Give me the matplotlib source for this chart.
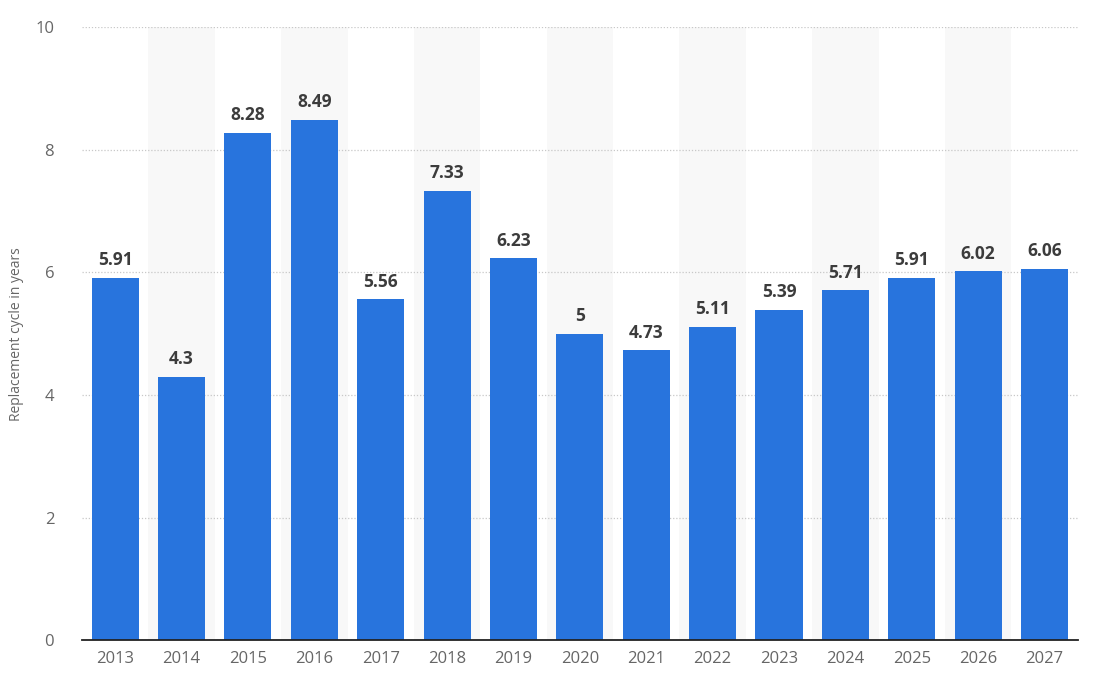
import matplotlib.pyplot as plt
import numpy as np

years = ['2013', '2014', '2015', '2016', '2017', '2018', '2019', '2020',
         '2021', '2022', '2023', '2024', '2025', '2026', '2027']
cycle = [5.91, 4.3, 8.28, 8.49, 5.56, 7.33, 6.23, 5, 4.73, 5.11, 5.39,
         5.71, 5.91, 6.02, 6.06]
yticks = [0, 2, 4, 6, 8, 10]

plt.rcParams['font.family'] = ['Open Sans', 'DejaVu Sans']

fig = plt.figure(figsize=(10.93, 6.81), dpi=100)
ax = fig.add_axes([0.075, 0.060, 0.911, 0.900])

x = np.arange(len(years))
# light bands behind every second year
for i in x[1::2]:
    ax.axvspan(i - 0.5, i + 0.5, color='#f8f8f8', zorder=0, lw=0)

bars = ax.bar(x, cycle, width=0.71, color='#2874dd', zorder=3)
for xi, v in zip(x, cycle):
    ax.text(xi, v + 0.14, f'{v:g}', ha='center', va='bottom', fontsize=12.5,
            fontweight='bold', color='#3c3c3c', zorder=4)

ax.set_xlim(-0.5, len(years) - 0.5)
ax.set_ylim(0, 10)
ax.set_xticks(x)
ax.set_xticklabels(years)
ax.set_yticks(yticks)
ax.yaxis.grid(True, linestyle=(0, (1, 1.5)), color='#c8c8c8', lw=0.9, zorder=1)
ax.set_axisbelow(True)
ax.tick_params(axis='both', length=0, labelsize=12, colors='#666666')
ax.tick_params(axis='x', pad=8)
ax.tick_params(axis='y', pad=20)
for s in ['top', 'right', 'left']:
    ax.spines[s].set_visible(False)
ax.spines['bottom'].set_color('#222222')
ax.spines['bottom'].set_linewidth(1.3)
ax.spines['bottom'].set_zorder(5)
ax.set_ylabel('Replacement cycle in years', fontsize=10, color='#666666', labelpad=8)

fig.savefig('out.png', dpi=100)
